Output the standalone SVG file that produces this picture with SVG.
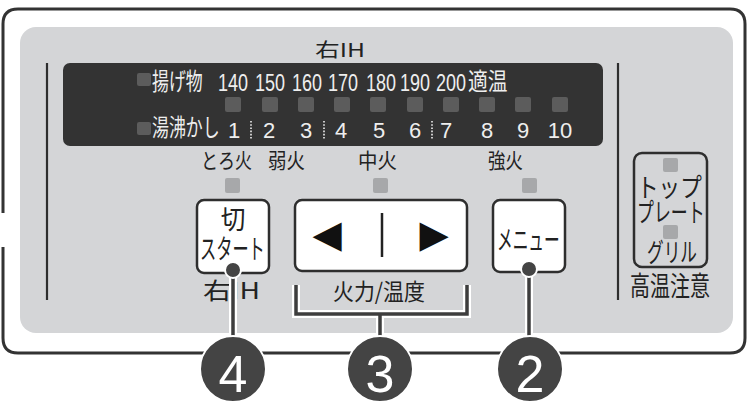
<svg xmlns="http://www.w3.org/2000/svg" width="747" height="406" viewBox="0 0 747 406">
<style>
.jp{font-family:"Noto Sans CJK JP","Noto Sans",sans-serif;font-weight:400;}
.num{font-family:"Liberation Sans",Arial,sans-serif;}
.lt{fill:#eeeeee;}
.dk{fill:#222222;}
.ledd{fill:#5c5c5c;}
.ledl{fill:#a7a8aa;}
.btn{fill:#ffffff;stroke:#2e2e2e;stroke-width:2.5;}
.btn2{fill:none;stroke:#2e2e2e;stroke-width:2.5;}
.halo{fill:none;stroke:#ffffff;stroke-width:8;stroke-linejoin:miter;}
.wire{fill:none;stroke:#3d3d3d;stroke-width:3.5;stroke-linejoin:miter;}
.badge{fill:#444444;stroke:#ffffff;stroke-width:2;}
.bnum{font-family:"Liberation Sans",Arial,sans-serif;font-size:52px;fill:#ffffff;text-anchor:middle;}
.dot{fill:#444444;stroke:#ffffff;stroke-width:2;}
.sep{stroke:#eeeeee;stroke-width:1.6;stroke-dasharray:1.6 1.6;}
.tri{font-family:"DejaVu Sans",sans-serif;font-size:38px;fill:#111111;text-anchor:middle;}
</style>
<rect width="747" height="406" fill="#ffffff"/>
<g id="panel">
<path d="M3,213 L3,24 Q3,9 18,9 L730,9 Q745,9 745,24 L745,338 Q745,353 730,353 L18,353 Q3,353 3,338 L3,247" fill="none" stroke="#333333" stroke-width="3"/>
<rect x="20" y="27" width="713" height="306" rx="16" fill="#d4d5d7"/>
<line x1="47" y1="63" x2="47" y2="300" stroke="#2e2e2e" stroke-width="2.2"/>
<line x1="618" y1="63" x2="618" y2="300" stroke="#2e2e2e" stroke-width="2.2"/>
</g>
<g id="title">
<text class="jp dk" x="315" y="57" font-size="19" textLength="50" lengthAdjust="spacingAndGlyphs">右IH</text>
</g>
<g id="led-display">
<rect x="63" y="63" width="540" height="83" rx="7" fill="#333333"/>
<rect class="ledd" x="137" y="73" width="14" height="13" rx="2"/>
<text class="jp lt" font-size="23.5" transform="translate(152,90) scale(0.72,1)">揚げ物</text>
<g class="num lt" font-size="24" text-anchor="middle">
<text transform="translate(233,91) scale(0.75,1)">140</text>
<text transform="translate(270,91) scale(0.75,1)">150</text>
<text transform="translate(307,91) scale(0.75,1)">160</text>
<text transform="translate(343,91) scale(0.75,1)">170</text>
<text transform="translate(381,91) scale(0.75,1)">180</text>
<text transform="translate(415,91) scale(0.75,1)">190</text>
<text transform="translate(451,91) scale(0.75,1)">200</text>
</g>
<text class="jp lt" font-size="23.5" transform="translate(468,90) scale(0.84,1)">適温</text>
<g class="ledd">
<rect x="225" y="97" width="16" height="15" rx="2"/>
<rect x="262" y="97" width="16" height="15" rx="2"/>
<rect x="298" y="97" width="16" height="15" rx="2"/>
<rect x="334" y="97" width="16" height="15" rx="2"/>
<rect x="370" y="97" width="16" height="15" rx="2"/>
<rect x="407" y="97" width="16" height="15" rx="2"/>
<rect x="443" y="97" width="16" height="15" rx="2"/>
<rect x="479" y="97" width="16" height="15" rx="2"/>
<rect x="515" y="97" width="16" height="15" rx="2"/>
<rect x="552" y="97" width="16" height="15" rx="2"/>
</g>
<rect class="ledd" x="137" y="122" width="14" height="13" rx="2"/>
<text class="jp lt" font-size="23.5" transform="translate(152,136) scale(0.72,1)">湯沸かし</text>
<g class="num lt" font-size="22" text-anchor="middle">
<text x="234" y="138">1</text>
<text x="269" y="138">2</text>
<text x="306" y="138">3</text>
<text x="341" y="138">4</text>
<text x="379" y="138">5</text>
<text x="415" y="138">6</text>
<text x="446" y="138">7</text>
<text x="487" y="138">8</text>
<text x="523" y="138">9</text>
<text x="560" y="138">10</text>
</g>
<line class="sep" x1="251" y1="121" x2="251" y2="139"/>
<line class="sep" x1="324" y1="121" x2="324" y2="139"/>
<line class="sep" x1="432" y1="121" x2="432" y2="139"/>
</g>
<g id="heat-labels">
<text class="jp dk" font-size="21" transform="translate(201,168) scale(0.81,1)">とろ火</text>
<text class="jp dk" font-size="21" transform="translate(268,168) scale(0.88,1)">弱火</text>
<text class="jp dk" font-size="21" transform="translate(358,168) scale(0.93,1)">中火</text>
<text class="jp dk" font-size="21" transform="translate(488,168) scale(0.83,1)">強火</text>
<rect class="ledl" x="225" y="178" width="15" height="15" rx="2"/>
<rect class="ledl" x="373" y="178" width="15" height="15" rx="2"/>
<rect class="ledl" x="522" y="178" width="15" height="15" rx="2"/>
</g>
<g id="btn-off-start">
<rect class="btn" x="197" y="200" width="72" height="73" rx="7"/>
<text class="jp dk" font-size="26" transform="translate(233,229) scale(0.95,1)" text-anchor="middle">切</text>
<text class="jp dk" font-size="27" transform="translate(200,259) scale(0.6,1)">スタート</text>
<text class="jp dk" x="203" y="299" font-size="23" textLength="57" lengthAdjust="spacingAndGlyphs">右IH</text>
</g>
<g id="btn-power">
<rect class="btn" x="295" y="200" width="172" height="71" rx="7"/>
<text class="tri" x="327" y="247">◀</text>
<text class="tri" x="434" y="247">▶</text>
<line x1="382" y1="213" x2="382" y2="257" stroke="#222222" stroke-width="2.5"/>
<text class="jp dk" font-size="23" transform="translate(333,300) scale(0.91,1)">火力/温度</text>
</g>
<g id="btn-menu">
<rect class="btn" x="493" y="200" width="72" height="72" rx="7"/>
<text class="jp dk" font-size="27" transform="translate(497,250) scale(0.58,1)">メニュー</text>
</g>
<g id="hot-warning">
<rect class="btn2" x="634" y="153" width="73" height="114" rx="8"/>
<rect class="ledl" x="663" y="158" width="15" height="14" rx="2"/>
<text class="jp dk" font-size="26" transform="translate(637,197) scale(0.83,1)">トップ</text>
<text class="jp dk" font-size="26" transform="translate(637,222) scale(0.65,1)">プレート</text>
<rect class="ledl" x="663" y="225" width="15" height="14" rx="2"/>
<text class="jp dk" font-size="26" transform="translate(647,262) scale(0.64,1)">グリル</text>
<text class="jp dk" font-size="27" transform="translate(630,296) scale(0.74,1)">高温注意</text>
</g>
<g id="connectors">
<path class="halo" d="M233,270 L233,338"/>
<path class="halo" d="M296,285 L296,314 L467,314 L467,285 M380,314 L380,338"/>
<path class="halo" d="M529,269 L529,338"/>
<path class="wire" d="M233,270 L233,338"/>
<path class="wire" d="M296,285 L296,314 L467,314 L467,285 M380,314 L380,338"/>
<path class="wire" d="M529,269 L529,338"/>
<circle class="dot" cx="233" cy="270" r="8"/>
<circle class="dot" cx="529" cy="269" r="8"/>
</g>
<g id="badge-4">
<circle class="badge" cx="233" cy="369" r="33"/>
<text class="bnum" x="233" y="392">4</text>
</g>
<g id="badge-3">
<circle class="badge" cx="380" cy="369" r="33"/>
<text class="bnum" x="380" y="392">3</text>
</g>
<g id="badge-2">
<circle class="badge" cx="530" cy="369" r="33"/>
<text class="bnum" x="530" y="392">2</text>
</g>
</svg>
